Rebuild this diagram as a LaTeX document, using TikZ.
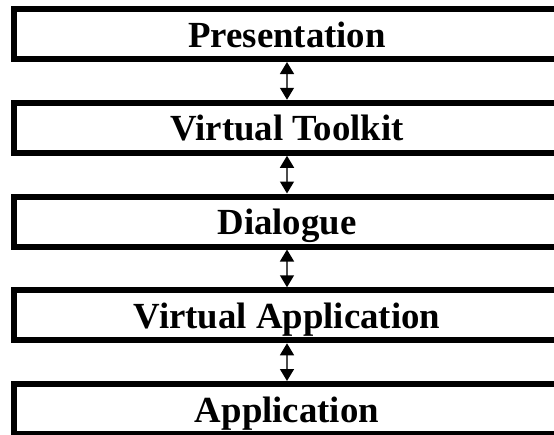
\documentclass[tikz,border=0pt]{standalone}
\usepackage{fontspec}
\setmainfont{Liberation Serif}
\usetikzlibrary{arrows.meta, positioning}

\begin{document}
\begin{tikzpicture}[
    node distance = 37.75pt,
    layer/.style = {
      draw=black, line width=6pt, fill=white,
      minimum width=546pt, minimum height=50pt,
      inner sep=0pt, align=center, text height=26pt, text depth=0pt,
      font=\fontsize{36.8}{40}\selectfont\bfseries
    },
    arr/.style = {{Triangle[width=14pt,length=12pt,color=black]}-{Triangle[width=14pt,length=12pt,color=black]},
      line width=1.5pt, draw=black!70},
  ]
    \useasboundingbox (0,0) rectangle (554pt,-434pt);

    % Layers, top to bottom
    \node[layer] (pres) at (287pt,-34pt) {Presentation};
    \node[layer, below=of pres] (vtk)  {Virtual Toolkit};
    \node[layer, below=of vtk]  (dlg)  {Dialogue};
    \node[layer, below=of dlg]  (vapp) {Virtual Application};
    \node[layer, below=of vapp] (app)  {Application};

    % Two-way links
    \draw[arr] (pres) -- (vtk);
    \draw[arr] (vtk)  -- (dlg);
    \draw[arr] (dlg)  -- (vapp);
    \draw[arr] (vapp) -- (app);
  \end{tikzpicture}
\end{document}
